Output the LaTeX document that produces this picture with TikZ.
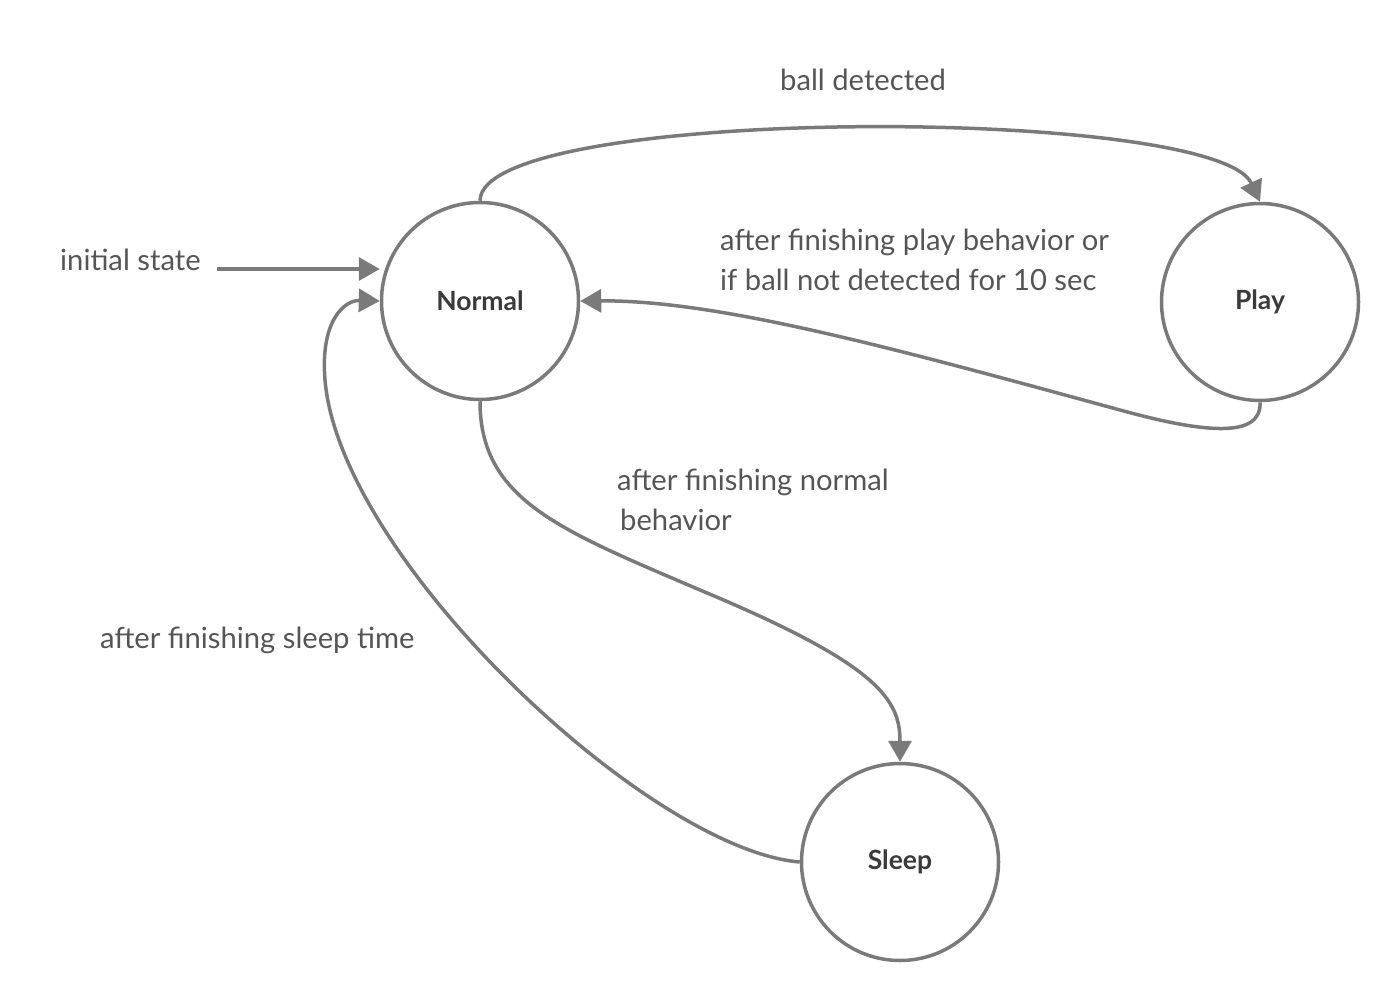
\documentclass[tikz,border=0pt]{standalone}
\usepackage{fontspec}
\setmainfont{Lato}
\usetikzlibrary{arrows.meta}
\definecolor{linegray}{HTML}{7A7A7A}
\definecolor{textgray}{HTML}{555555}
\definecolor{stategray}{HTML}{3A3A3A}
\begin{document}
\begin{tikzpicture}[x=1pt,y=-1pt,
        state/.style={circle,draw=linegray,line width=3.5pt,minimum size=197pt,inner sep=0pt,
            text=stategray,font=\fontsize{26.5}{30}\selectfont\bfseries},
        trans/.style={draw=linegray,line width=3.5pt,-{Triangle[length=21pt,width=23pt]}},
        lbl/.style={text=textgray,font=\fontsize{29.2}{40}\selectfont,inner sep=0pt,anchor=west,align=left}]
            \useasboundingbox (0,0) rectangle (1400,1001);

            \node[state] (Normal) at (480,301) {Normal};
            \node[state] (Play) at (1260,302) {Play};
            \node[state] (Sleep) at (900,862) {Sleep};

            \node[lbl] (init) at (60,260) {initial state};
            \node[lbl] (ball) at (780,80) {ball detected};
            \node[lbl,anchor=north west] (back) at (720,229) {after finishing play behavior or\\if ball not detected for 10 sec};
            \node[lbl,anchor=north west] (norm) at (617,469) {after finishing normal\\\hspace{3pt}behavior};
            \node[lbl] (slp) at (100,640) {after finishing sleep time};

            \coordinate (start) at (217,269);
            \draw[trans] (start) -- (Normal.west |- start);
            \draw[trans] (Normal.north) .. controls (480,105) and (1215,105) .. (Play.north);
            \draw[trans] (Play.south) .. controls (1262,440) and (1200,432) .. (1120,410)
                .. controls (900,350) and (720,300) .. (Normal.east);
            \draw[trans] (Normal.south) .. controls (480,500) and (560,530) .. (700,590)
                .. controls (880,665) and (900,700) .. (Sleep.north);
            \draw[trans] (Sleep.west) .. controls (650,850) and (340,560) .. (325,380)
                .. controls (320,320) and (345,300) .. (Normal.west);

        \end{tikzpicture}
\end{document}
